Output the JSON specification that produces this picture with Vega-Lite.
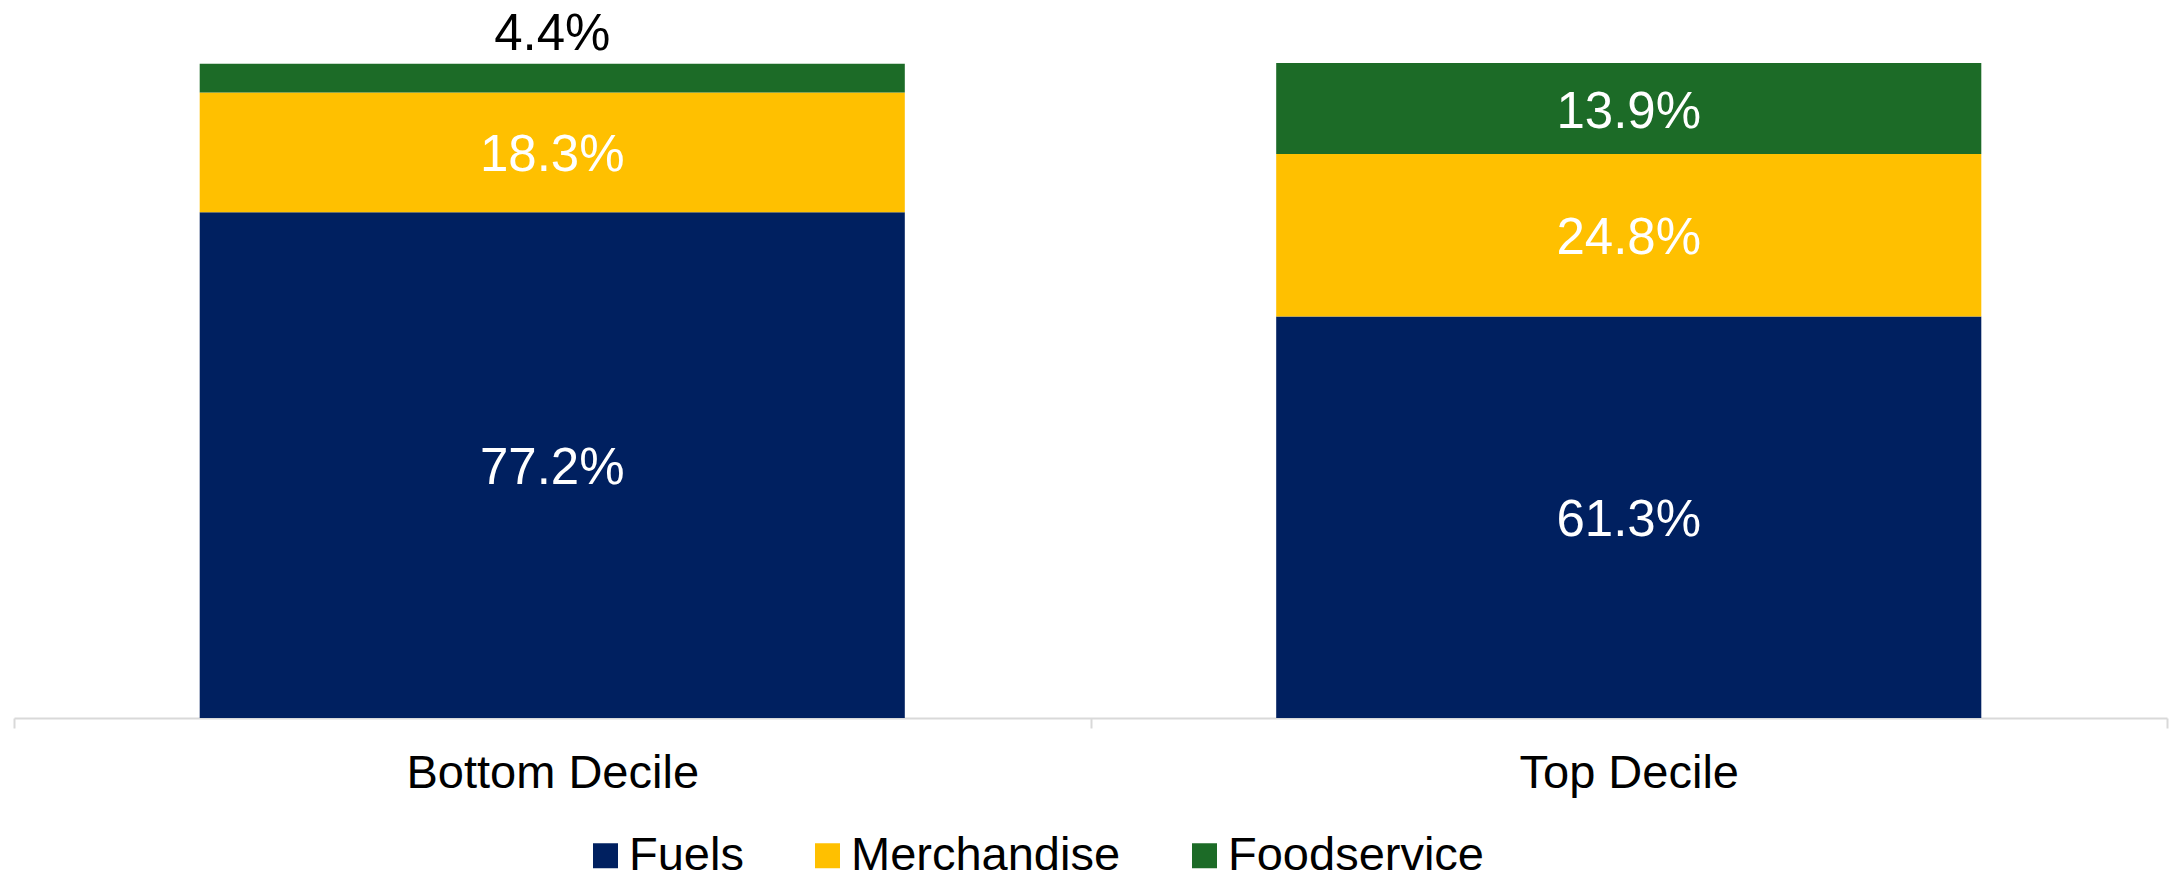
{
  "$schema": "https://vega.github.io/schema/vega-lite/v6.json",
  "autosize": {"type": "none"},
  "width": 2153,
  "height": 655,
  "padding": {"left": 14, "top": 63, "right": 15, "bottom": 155},
  "background": "white",
  "config": {
    "view": {"stroke": null},
    "font": "Liberation Sans"
  },
  "data": {
    "values": [
      {"decile": "Bottom Decile", "category": "Fuels", "value": 77.2},
      {"decile": "Bottom Decile", "category": "Merchandise", "value": 18.3},
      {"decile": "Bottom Decile", "category": "Foodservice", "value": 4.4},
      {"decile": "Top Decile", "category": "Fuels", "value": 61.3},
      {"decile": "Top Decile", "category": "Merchandise", "value": 24.8},
      {"decile": "Top Decile", "category": "Foodservice", "value": 13.9}
    ]
  },
  "transform": [
    {"calculate": "indexof(['Fuels','Merchandise','Foodservice'], datum.category)", "as": "ord"},
    {"stack": "value", "groupby": ["decile"], "sort": [{"field": "ord", "order": "ascending"}], "as": ["v0", "v1"]},
    {"calculate": "(datum.v0 + datum.v1) / 2", "as": "mid"},
    {"calculate": "format(datum.value, '.1f') + '%'", "as": "lbl"}
  ],
  "encoding": {
    "x": {
      "field": "decile",
      "type": "nominal",
      "sort": ["Bottom Decile", "Top Decile"],
      "scale": {"paddingInner": 0, "paddingOuter": 0},
      "axis": {
        "title": null,
        "labelAngle": 0,
        "labelFont": "Liberation Sans",
        "labelFontSize": 47,
        "labelColor": "#000000",
        "labelPadding": 22,
        "labelLimit": 0,
        "domainColor": "#d9d9d9",
        "domainWidth": 2,
        "tickColor": "#d9d9d9",
        "tickWidth": 2,
        "tickSize": 10,
        "tickBand": "extent"
      }
    }
  },
  "layer": [
    {
      "mark": {"type": "bar", "width": {"band": 0.655}},
      "encoding": {
        "y": {"field": "v1", "type": "quantitative", "scale": {"domain": [0, 100], "nice": false}, "axis": null},
        "y2": {"field": "v0"},
        "color": {
          "field": "category",
          "type": "nominal",
          "sort": ["Fuels", "Merchandise", "Foodservice"],
          "scale": {"domain": ["Fuels", "Merchandise", "Foodservice"], "range": ["#002060", "#FFC000", "#1C6B27"]},
          "legend": {
            "title": null,
            "orient": "none",
            "direction": "horizontal",
            "legendX": 568,
            "legendY": 769,
            "padding": 0,
            "symbolType": "square",
            "symbolSize": 625,
            "symbolStrokeWidth": 0,
            "symbolOpacity": 1,
            "labelFont": "Liberation Sans",
            "labelFontSize": 47,
            "labelColor": "#000000",
            "labelOffset": 0,
            "columnPadding": 60,
            "labelLimit": 0
          }
        }
      }
    },
    {
      "transform": [{"filter": "datum.value >= 5"}],
      "mark": {"type": "text", "fontSize": 51, "font": "Liberation Sans", "color": "#FFFFFF", "baseline": "middle", "align": "center", "dy": 4},
      "encoding": {
        "y": {"field": "mid", "type": "quantitative"},
        "text": {"field": "lbl"}
      }
    },
    {
      "transform": [{"filter": "datum.value < 5"}],
      "mark": {"type": "text", "fontSize": 51, "font": "Liberation Sans", "color": "#000000", "baseline": "alphabetic", "align": "center", "dy": -14},
      "encoding": {
        "y": {"field": "v1", "type": "quantitative"},
        "text": {"field": "lbl"}
      }
    }
  ]
}
